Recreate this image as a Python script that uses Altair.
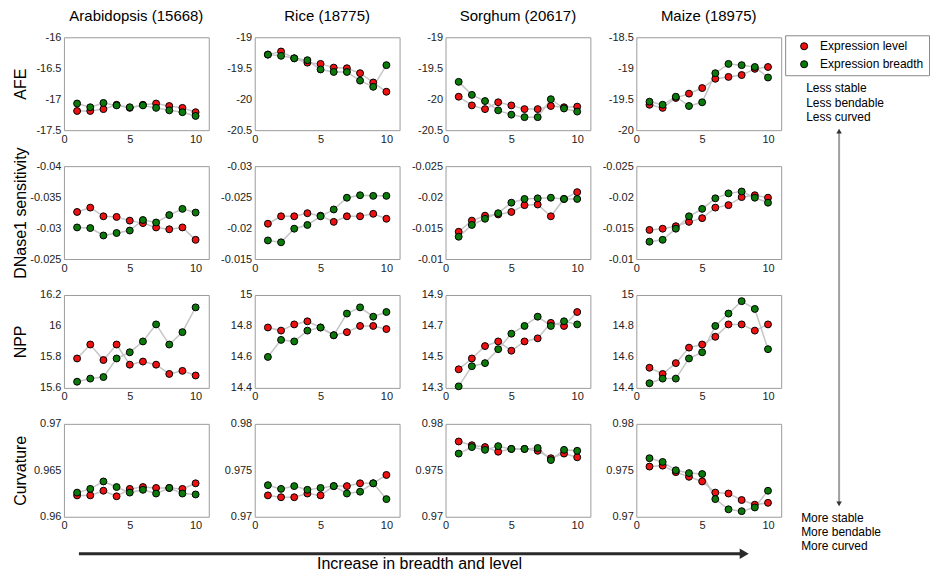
import altair as alt
import pandas as pd

FONT = "Liberation Sans"

X = list(range(1, 11))
SPECIES = ["Arabidopsis (15668)", "Rice (18775)", "Sorghum (20617)", "Maize (18975)"]
FEATURES = ["AFE", "DNase1 sensitivity", "NPP", "Curvature"]
SERIES = ["Expression level", "Expression breadth"]
SERIES_COLORS = ["#ee1111", "#0b7a0b"]
X_TICKS = [0, 5, 10]

# ---- AFE ----
arab_afe_level = [-17.19, -17.19, -17.16, -17.09, -17.14, -17.09, -17.07, -17.11, -17.14, -17.21]
arab_afe_breadth = [-17.07, -17.13, -17.06, -17.10, -17.13, -17.10, -17.14, -17.18, -17.21, -17.27]
rice_afe_level = [-19.28, -19.23, -19.34, -19.41, -19.43, -19.49, -19.50, -19.58, -19.73, -19.88]
rice_afe_breadth = [-19.28, -19.30, -19.34, -19.37, -19.52, -19.56, -19.56, -19.70, -19.80, -19.45]
sorg_afe_level = [-19.96, -20.10, -20.16, -20.05, -20.10, -20.16, -20.16, -20.11, -20.13, -20.12]
sorg_afe_breadth = [-19.72, -19.93, -20.03, -20.18, -20.25, -20.29, -20.29, -20.00, -20.15, -20.20]
maize_afe_level = [-19.59, -19.64, -19.48, -19.41, -19.32, -19.17, -19.14, -19.11, -19.01, -18.98]
maize_afe_breadth = [-19.54, -19.59, -19.46, -19.61, -19.55, -19.08, -18.93, -18.95, -18.98, -19.15]

# ---- DNase1 sensitivity ----
arab_dn_level = [-0.0326, -0.0333, -0.0319, -0.0318, -0.0312, -0.0308, -0.0301, -0.0298, -0.0301, -0.0281]
arab_dn_breadth = [-0.0301, -0.0300, -0.0288, -0.0292, -0.0296, -0.0313, -0.0309, -0.0321, -0.0331, -0.0325]
rice_dn_level = [-0.0207, -0.0219, -0.0219, -0.0224, -0.0220, -0.0210, -0.0219, -0.0219, -0.0223, -0.0215]
rice_dn_breadth = [-0.0180, -0.0177, -0.0199, -0.0205, -0.0219, -0.0230, -0.0249, -0.0253, -0.0252, -0.0252]
sorg_dn_level = [-0.0144, -0.0162, -0.0170, -0.0172, -0.0176, -0.0187, -0.0188, -0.0169, -0.0197, -0.0208]
sorg_dn_breadth = [-0.0136, -0.0155, -0.0165, -0.0174, -0.0191, -0.0197, -0.0198, -0.0199, -0.0197, -0.0197]
maize_dn_level = [-0.0147, -0.0149, -0.0153, -0.0160, -0.0166, -0.0183, -0.0187, -0.0200, -0.0203, -0.0199]
maize_dn_breadth = [-0.0128, -0.0131, -0.0149, -0.0169, -0.0181, -0.0198, -0.0206, -0.0209, -0.0199, -0.0191]

# ---- NPP ----
arab_npp_level = [15.79, 15.88, 15.78, 15.88, 15.75, 15.77, 15.75, 15.69, 15.71, 15.68]
arab_npp_breadth = [15.64, 15.66, 15.67, 15.79, 15.83, 15.90, 16.01, 15.88, 15.96, 16.12]
rice_npp_level = [14.79, 14.77, 14.81, 14.83, 14.79, 14.74, 14.76, 14.80, 14.80, 14.78]
rice_npp_breadth = [14.60, 14.71, 14.70, 14.77, 14.79, 14.74, 14.88, 14.92, 14.86, 14.89]
sorg_npp_level = [14.42, 14.49, 14.57, 14.60, 14.54, 14.60, 14.62, 14.72, 14.70, 14.79]
sorg_npp_breadth = [14.31, 14.44, 14.46, 14.55, 14.65, 14.70, 14.76, 14.70, 14.73, 14.71]
maize_npp_level = [14.53, 14.49, 14.56, 14.66, 14.68, 14.73, 14.81, 14.81, 14.77, 14.81]
maize_npp_breadth = [14.43, 14.46, 14.46, 14.59, 14.63, 14.80, 14.88, 14.96, 14.91, 14.65]

# ---- Curvature ----
arab_cv_level = [0.9623, 0.9623, 0.9628, 0.9622, 0.9630, 0.9632, 0.9631, 0.9631, 0.9630, 0.9636]
arab_cv_breadth = [0.9626, 0.9630, 0.9638, 0.9632, 0.9626, 0.9629, 0.9625, 0.9631, 0.9625, 0.9624]
rice_cv_level = [0.9723, 0.9721, 0.9721, 0.9725, 0.9723, 0.9733, 0.9733, 0.9736, 0.9736, 0.9745]
rice_cv_breadth = [0.9734, 0.9730, 0.9733, 0.9729, 0.9731, 0.9733, 0.9725, 0.9727, 0.9736, 0.9719]
sorg_cv_level = [0.9781, 0.9777, 0.9775, 0.9770, 0.9773, 0.9773, 0.9771, 0.9763, 0.9768, 0.9764]
sorg_cv_breadth = [0.9768, 0.9775, 0.9772, 0.9776, 0.9773, 0.9773, 0.9774, 0.9761, 0.9772, 0.9771]
maize_cv_level = [0.9754, 0.9755, 0.9748, 0.9743, 0.9738, 0.9726, 0.9725, 0.9718, 0.9713, 0.9715]
maize_cv_breadth = [0.9763, 0.9759, 0.9750, 0.9747, 0.9746, 0.9719, 0.9708, 0.9706, 0.9710, 0.9728]

DATA = [
    [(arab_afe_level, arab_afe_breadth), (rice_afe_level, rice_afe_breadth),
     (sorg_afe_level, sorg_afe_breadth), (maize_afe_level, maize_afe_breadth)],
    [(arab_dn_level, arab_dn_breadth), (rice_dn_level, rice_dn_breadth),
     (sorg_dn_level, sorg_dn_breadth), (maize_dn_level, maize_dn_breadth)],
    [(arab_npp_level, arab_npp_breadth), (rice_npp_level, rice_npp_breadth),
     (sorg_npp_level, sorg_npp_breadth), (maize_npp_level, maize_npp_breadth)],
    [(arab_cv_level, arab_cv_breadth), (rice_cv_level, rice_cv_breadth),
     (sorg_cv_level, sorg_cv_breadth), (maize_cv_level, maize_cv_breadth)],
]

Y_TICKS = [
    [[-17.5, -17, -16.5, -16], [-20.5, -20, -19.5, -19], [-20.5, -20, -19.5, -19], [-20, -19.5, -19, -18.5]],
    [[-0.04, -0.035, -0.03, -0.025], [-0.03, -0.025, -0.02, -0.015], [-0.025, -0.02, -0.015, -0.01], [-0.025, -0.02, -0.015, -0.01]],
    [[15.6, 15.8, 16, 16.2], [14.4, 14.6, 14.8, 15], [14.3, 14.5, 14.7, 14.9], [14.4, 14.6, 14.8, 15]],
    [[0.96, 0.965, 0.97], [0.97, 0.975, 0.98], [0.97, 0.975, 0.98], [0.97, 0.975, 0.98]],
]
REVERSED_ROWS = [1]

LESS_TEXT = "Less stable\nLess bendable\nLess curved"
MORE_TEXT = "More stable\nMore bendable\nMore curved"
BOTTOM_TEXT = "Increase in breadth and level"

W, H = 145, 93
one = pd.DataFrame({"k": [0]})


def panel(r, c):
    level, breadth = DATA[r][c]
    df = pd.DataFrame({
        "x": X + X,
        "value": level + breadth,
        "series": [SERIES[0]] * len(X) + [SERIES[1]] * len(X),
    })
    ticks = Y_TICKS[r][c]
    yscale = alt.Scale(domain=[min(ticks), max(ticks)], reverse=(r in REVERSED_ROWS), nice=False, zero=False)
    yaxis = alt.Axis(
        values=ticks, tickCount=10, labelExpr="'' + datum.value",
        title=FEATURES[r] if c == 0 else None,
        titleFontSize=16, titleFontWeight="normal", titleColor="black",
        titleX=-38, titleY=H / 2, titleBaseline="alphabetic", titleAngle=270,
    )
    xscale = alt.Scale(domain=[0, 11], nice=False, zero=False)
    xaxis = alt.Axis(values=X_TICKS, tickCount=10, title=None, labelExpr="'' + datum.value")
    base = alt.Chart(df)
    lines = base.mark_line(color="#c6c6c6", strokeWidth=1.5).encode(
        x=alt.X("x:Q", scale=xscale, axis=xaxis),
        y=alt.Y("value:Q", scale=yscale, axis=yaxis),
        detail="series:N",
    )
    pts = base.mark_point(filled=True, size=48, stroke="black", strokeWidth=1, opacity=1).encode(
        x="x:Q",
        y="value:Q",
        color=alt.Color(
            "series:N",
            scale=alt.Scale(domain=SERIES, range=SERIES_COLORS),
            legend=alt.Legend(
                orient="none", legendX=722, legendY=-2, title=None,
                strokeColor="#8a8a8a", fillColor="white", padding=5,
                labelFontSize=12, labelColor="black", symbolType="circle",
                symbolSize=50, symbolStrokeColor="black", symbolStrokeWidth=1,
                symbolOffset=8, labelOffset=10, rowPadding=6,
            ),
        ),
        order=alt.Order("order:Q"),
    ).transform_calculate(order="datum.series == 'Expression level' ? 0 : 1")
    layers = [lines, pts]

    if r == 0 and c == 3:
        layers.append(alt.Chart(one).mark_text(
            align="left", baseline="top", fontSize=12, lineBreak="\n", lineHeight=14.5, color="black"
        ).encode(x=alt.value(170), y=alt.value(46), text=alt.value(LESS_TEXT)))
        layers.append(alt.Chart(one).mark_rule(color="#a0a0a0", strokeWidth=2).encode(
            x=alt.value(203), y=alt.value(94), y2=alt.value(466)))
        layers.append(alt.Chart(one).mark_point(shape="triangle-up", filled=True, size=30, color="#333", opacity=1).encode(
            x=alt.value(203), y=alt.value(94)))
        layers.append(alt.Chart(one).mark_point(shape="triangle-down", filled=True, size=30, color="#333", opacity=1).encode(
            x=alt.value(203), y=alt.value(467)))
    if r == 3 and c == 3:
        layers.append(alt.Chart(one).mark_text(
            align="left", baseline="top", fontSize=12, lineBreak="\n", lineHeight=14, color="black"
        ).encode(x=alt.value(165), y=alt.value(89), text=alt.value(MORE_TEXT)))
    if r == 3 and c == 0:
        layers.append(alt.Chart(one).mark_rule(color="#2a2a2a", strokeWidth=3).encode(
            x=alt.value(15), x2=alt.value(680), y=alt.value(130)))
        layers.append(alt.Chart(one).mark_point(shape="triangle-right", filled=True, size=110, color="#2a2a2a", opacity=1).encode(
            x=alt.value(681), y=alt.value(130)))
        layers.append(alt.Chart(one).mark_text(
            align="center", baseline="alphabetic", fontSize=16, color="black"
        ).encode(x=alt.value(356), y=alt.value(145), text=alt.value(BOTTOM_TEXT)))

    ch = alt.layer(*layers).properties(width=W, height=H)
    if r == 0:
        ch = ch.properties(title=alt.TitleParams(text=SPECIES[c], fontSize=15, fontWeight="normal",
                                                 offset=7, color="black"))
    return ch


panels = [panel(r, c) for r in range(4) for c in range(4)]

chart = alt.concat(*panels, columns=4, spacing={"row": 36, "column": 46}, bounds="flush").properties(
    padding={"left": 12, "top": 8, "right": 0, "bottom": 0}
).configure(font=FONT).configure_view(
    stroke="#9c9c9c", strokeWidth=1
).configure_axis(
    grid=False, domain=False, ticks=False, labelFontSize=11, labelColor="#222",
    labelPadding=3, labelFlush=False, labelOverlap=False,
)

chart.save("out.html", embed_options={"renderer": "svg", "actions": False})
